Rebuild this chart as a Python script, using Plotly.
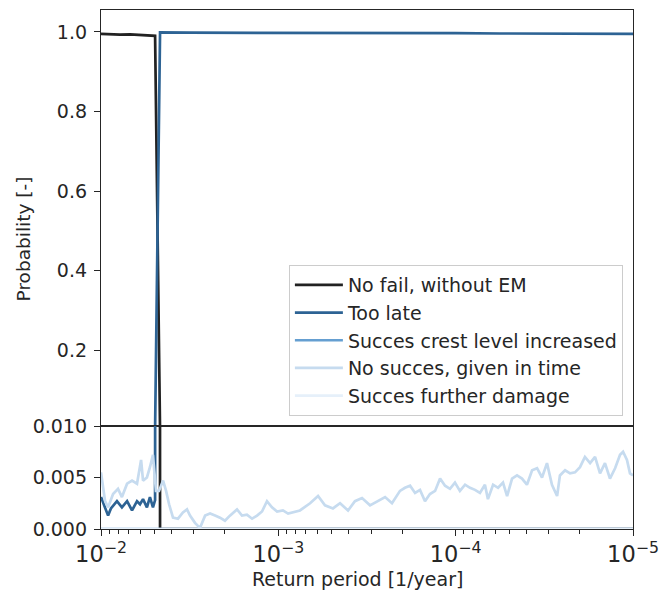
import plotly.graph_objects as go
from plotly.subplots import make_subplots

# Return periods are stored as log10 exponents (frequency in 1/year)
exp_no_fail = [-2.000, -2.051, -2.107, -2.164, -2.220, -2.276, -2.305, -2.333, -3.000, -4.000, -5.000]
no_fail = [0.995, 0.994, 0.993, 0.994, 0.992, 0.991, 0.990, 0.000, 0.000, 0.000, 0.000]

exp_too_late = [-2.000, -2.023, -2.040, -2.056, -2.090, -2.118, -2.147, -2.175, -2.203, -2.220,
                -2.237, -2.259, -2.276, -2.293, -2.305, -2.333, -2.500, -2.750, -3.000, -3.250,
                -3.500, -3.750, -4.000, -4.250, -4.500, -4.750, -5.000]
too_late = [0.0031, 0.0020, 0.0013, 0.0020, 0.0027, 0.0021, 0.0027, 0.0018, 0.0027, 0.0024,
            0.0029, 0.0021, 0.0031, 0.0021, 0.0028, 0.999, 0.998, 0.998, 0.998, 0.997,
            0.997, 0.997, 0.997, 0.996, 0.996, 0.996, 0.995]

exp_crest = [-2.000, -3.000, -4.000, -5.000]
crest = [0.0, 0.0, 0.0, 0.0]

exp_no_succes = [-2.000, -2.023, -2.040, -2.068, -2.096, -2.118, -2.147, -2.175, -2.203, -2.226,
                 -2.237, -2.259, -2.276, -2.293, -2.310, -2.327, -2.350, -2.367, -2.384, -2.406,
                 -2.434, -2.462, -2.485, -2.502, -2.530, -2.558, -2.587, -2.615, -2.643, -2.671,
                 -2.699, -2.727, -2.767, -2.795, -2.823, -2.852, -2.880, -2.908, -2.936, -2.964,
                 -2.993, -3.026, -3.055, -3.122, -3.179, -3.224, -3.263, -3.308, -3.348, -3.393,
                 -3.432, -3.472, -3.517, -3.562, -3.602, -3.641, -3.675, -3.686, -3.714, -3.743,
                 -3.771, -3.799, -3.827, -3.855, -3.884, -3.912, -3.940, -3.968, -3.996, -4.024,
                 -4.053, -4.081, -4.109, -4.137, -4.165, -4.182, -4.211, -4.239, -4.267, -4.290,
                 -4.318, -4.346, -4.374, -4.402, -4.431, -4.459, -4.487, -4.515, -4.543, -4.572,
                 -4.588, -4.617, -4.645, -4.673, -4.701, -4.729, -4.758, -4.786, -4.814, -4.842,
                 -4.870, -4.899, -4.927, -4.944, -4.966, -4.983, -5.000]
no_succes = [0.0055, 0.0027, 0.0021, 0.0034, 0.0039, 0.0031, 0.0044, 0.0047, 0.0044, 0.0067,
             0.0047, 0.0050, 0.0060, 0.0072, 0.0037, 0.0037, 0.0047, 0.0037, 0.0024, 0.0011,
             0.0010, 0.0016, 0.0019, 0.0013, 0.0006, 0.0001, 0.0013, 0.0015, 0.0013, 0.0011,
             0.0008, 0.0013, 0.0019, 0.0013, 0.0014, 0.0010, 0.0013, 0.0017, 0.0027, 0.0021,
             0.0017, 0.0018, 0.0015, 0.0018, 0.0025, 0.0032, 0.0023, 0.0020, 0.0025, 0.0018,
             0.0027, 0.0030, 0.0023, 0.0027, 0.0031, 0.0025, 0.0035, 0.0037, 0.0040, 0.0042,
             0.0035, 0.0038, 0.0027, 0.0034, 0.0037, 0.0049, 0.0042, 0.0039, 0.0045, 0.0037,
             0.0043, 0.0040, 0.0038, 0.0035, 0.0043, 0.0029, 0.0043, 0.0040, 0.0045, 0.0032,
             0.0049, 0.0052, 0.0049, 0.0043, 0.0057, 0.0059, 0.0050, 0.0064, 0.0043, 0.0032,
             0.0052, 0.0057, 0.0054, 0.0055, 0.0060, 0.0070, 0.0064, 0.0070, 0.0054, 0.0064,
             0.0049, 0.0059, 0.0072, 0.0075, 0.0067, 0.0054, 0.0052]

exp_further = [-2.000, -3.000, -4.000, -5.000]
further = [0.0, 0.0, 0.0, 0.0]

series = [
    ("No fail, without EM", exp_no_fail, no_fail, "#222222"),
    ("Too late", exp_too_late, too_late, "#2d6394"),
    ("Succes crest level increased", exp_crest, crest, "#659fd1"),
    ("No succes, given in time", exp_no_succes, no_succes, "#c6dbef"),
    ("Succes further damage", exp_further, further, "#e6f0fa"),
]

INK = "#262626"
FONT = "DejaVu Sans"

fig = make_subplots(rows=2, cols=1, shared_xaxes=True, vertical_spacing=0,
                    row_heights=[416, 103])

for name, ex, vals, col in series:
    xs = [10 ** e for e in ex]
    for row in (1, 2):
        fig.add_trace(go.Scatter(x=xs, y=vals, mode="lines", name=name,
                                 line=dict(color=col, width=2.7),
                                 showlegend=(row == 1)),
                      row=row, col=1)

axis_common = dict(showline=True, linecolor=INK, linewidth=1.3, mirror=True,
                   showgrid=False, zeroline=False, automargin=False)

fig.update_xaxes(type="log", range=[-2, -5], dtick=1, exponentformat="power",
                 tickfont=dict(family=FONT, size=18, color=INK), **axis_common)
fig.update_xaxes(ticks="", showticklabels=False, row=1, col=1)
fig.update_xaxes(ticks="outside", ticklen=6, tickwidth=1.3, tickcolor=INK,
                 minor=dict(ticks="outside", ticklen=3.5, tickwidth=1, tickcolor=INK, dtick="D1"),
                 row=2, col=1)

fig.update_yaxes(ticks="outside", ticklen=6, tickwidth=1.3, tickcolor=INK,
                 ticklabelstandoff=3, tickfont=dict(family=FONT, size=19, color=INK),
                 **axis_common)
fig.update_yaxes(range=[0.01, 1.055], tickvals=[0.2, 0.4, 0.6, 0.8, 1.0], tickformat=".1f",
                 row=1, col=1)
fig.update_yaxes(range=[0, 0.01], tickvals=[0.0, 0.005, 0.01], tickformat=".3f",
                 row=2, col=1)

fig.add_annotation(text="Return period [1/year]", xref="paper", yref="paper",
                   x=0.4825, y=-0.0963, xanchor="center", yanchor="middle",
                   showarrow=False, font=dict(family=FONT, size=19, color=INK))
fig.add_annotation(text="Probability [-]", xref="paper", yref="paper",
                   x=-0.1466, y=0.558, xanchor="center", yanchor="middle", textangle=-90,
                   showarrow=False, font=dict(family=FONT, size=18.5, color=INK))

fig.update_layout(
    width=669, height=593,
    margin=dict(l=101, r=36, t=10, b=64, autoexpand=False),
    paper_bgcolor="white", plot_bgcolor="white",
    font=dict(family=FONT, size=19, color=INK),
    legend=dict(x=0.981, y=0.2177, xanchor="right", yanchor="bottom",
                tracegroupgap=0, itemwidth=48,
                bgcolor="rgba(255,255,255,0.8)", bordercolor="#cccccc", borderwidth=1,
                font=dict(family=FONT, size=19, color=INK)),
)

fig.write_html("out.html")
